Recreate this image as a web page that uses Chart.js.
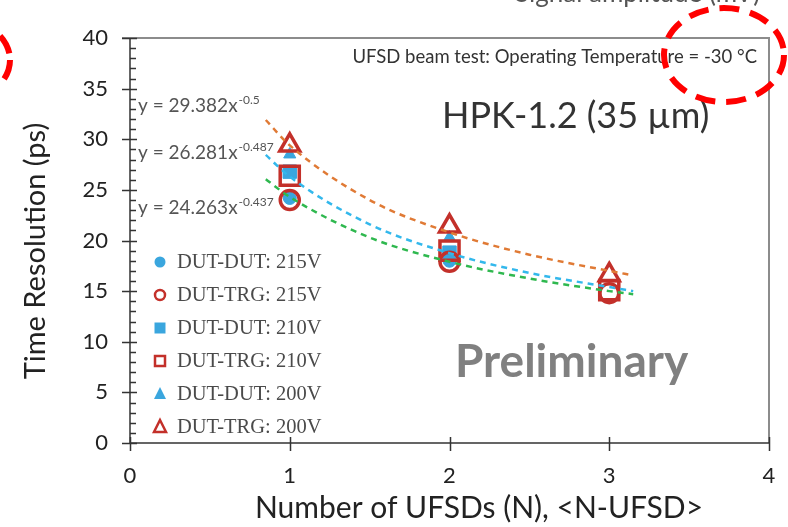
<!DOCTYPE html>
<html lang="en">
<head>
<meta charset="UTF-8">
<title>HPK-1.2 time resolution</title>
<script src="https://cdn.jsdelivr.net/npm/chart.js@4/dist/chart.umd.min.js"></script>
<style>
  html, body { margin: 0; padding: 0; background: #fff; }
  #wrap { width: 788px; height: 527px; }
</style>
</head>
<body>
<div id="wrap"><canvas id="chart" width="788" height="527"></canvas></div>
<script>
// ---- data ----
const nUfsd = [1, 2, 3];
const legendLabels = ['DUT-DUT: 215V', 'DUT-TRG: 215V', 'DUT-DUT: 210V',
                      'DUT-TRG: 210V', 'DUT-DUT: 200V', 'DUT-TRG: 200V'];
const dutDut215 = [24.2, 18.0];
const dutTrg215 = [24.0, 17.9, 14.8];
const dutDut210 = [26.8, 18.8];
const dutTrg210 = [26.4, 19.0, 15.1];
const dutDut200 = [28.5, 20.3];
const dutTrg200 = [29.4, 21.4, 16.6];

// dashed power-law fits
const fitN = [0.85, 1, 1.5, 2, 2.5, 3, 3.15];
const fit200 = [31.9, 29.4, 24.0, 20.8, 18.6, 17.0, 16.55];
const fit210 = [28.45, 26.3, 21.6, 18.75, 16.8, 15.4, 15.0];
const fit215 = [26.05, 24.3, 20.3, 17.9, 16.25, 15.0, 14.7];
const fitLabels = ['y = 29.382x|-0.5', 'y = 26.281x|-0.487', 'y = 24.263x|-0.437'];

const xTicks = [0, 1, 2, 3, 4];
const yTicks = [0, 5, 10, 15, 20, 25, 30, 35, 40];

const BLUE = '#3aa6de';
const RED = '#c3302a';

// marker radius per style (Chart.js radius units)
const openRadius = { circle: 9.5, rect: 13.5, triangle: 11.5 };
const filledRadius = { circle: 6.5, rect: 9.5, triangle: 7 };

function pts(xs, ys) {
  return ys.map((y, i) => ({ x: xs[i], y: y }));
}

function markerSet(label, ys, style, filled, order) {
  return {
    label: label,
    data: pts(nUfsd, ys),
    pointStyle: style,
    pointRadius: filled ? filledRadius[style] : openRadius[style],
    pointBackgroundColor: filled ? BLUE : 'rgba(0,0,0,0)',
    pointBorderColor: filled ? BLUE : RED,
    pointBorderWidth: filled ? 1 : 3.5,
    showLine: false,
    order: order
  };
}

function fitSet(ys, color) {
  return {
    type: 'line',
    data: pts(fitN, ys),
    borderColor: color,
    borderWidth: 2.5,
    borderDash: [6, 5],
    pointRadius: 0,
    cubicInterpolationMode: 'monotone',
    fill: false,
    order: 0
  };
}

// ---- axes, annotations and legend drawn on the canvas ----
const decorations = {
  id: 'decorations',
  beforeDraw(chart) {
    const ctx = chart.ctx;
    ctx.save();
    ctx.fillStyle = '#fff';
    ctx.fillRect(0, 0, chart.width, chart.height);
    ctx.restore();
  },
  afterDraw(chart) {
    const ctx = chart.ctx;
    const a = chart.chartArea;
    const xs = chart.scales.x, ys = chart.scales.y;
    ctx.save();

    // frame
    ctx.strokeStyle = '#8c8c8c';
    ctx.lineWidth = 2;
    ctx.beginPath();
    ctx.moveTo(a.left - 8, a.top);
    ctx.lineTo(a.right, a.top);
    ctx.lineTo(a.right, a.bottom);
    ctx.stroke();

    ctx.strokeStyle = '#333';
    ctx.lineWidth = 1.5;
    ctx.beginPath();
    ctx.moveTo(a.left, a.top);
    ctx.lineTo(a.left, a.bottom);
    ctx.lineTo(a.right, a.bottom);
    ctx.stroke();

    // y ticks: major crossing, minor inside
    ctx.beginPath();
    for (let v = 0; v <= 40; v++) {
      const py = Math.round(ys.getPixelForValue(v)) + 0.5;
      if (v % 5 === 0) {
        ctx.moveTo(a.left - 8, py);
        ctx.lineTo(a.left + 7, py);
      } else {
        ctx.moveTo(a.left, py);
        ctx.lineTo(a.left + 6, py);
      }
    }
    xTicks.forEach(v => {
      const px = Math.round(xs.getPixelForValue(v)) + 0.5;
      ctx.moveTo(px, a.bottom - 6);
      ctx.lineTo(px, a.bottom + 8);
    });
    ctx.stroke();

    // axis titles
    ctx.fillStyle = '#222';
    ctx.textAlign = 'center';
    ctx.textBaseline = 'middle';
    ctx.font = '30px Lato';
    ctx.fillText('Number of UFSDs (N), <N-UFSD>', 479, 508);
    ctx.save();
    ctx.translate(36, 251);
    ctx.rotate(-Math.PI / 2);
    ctx.font = '29px Lato';
    ctx.fillText('Time Resolution (ps)', 0, 0);
    ctx.restore();

    // fit equations
    const eqPix = [106, 153, 208];
    fitLabels.forEach((t, i) => {
      const parts = t.split('|');
      ctx.fillStyle = '#555';
      ctx.textBaseline = 'middle';
      ctx.textAlign = 'left';
      ctx.font = '19px Lato';
      ctx.fillText(parts[0], 138, eqPix[i]);
      const w = ctx.measureText(parts[0]).width;
      ctx.font = '12px Lato';
      ctx.fillText(parts[1], 138 + w + 1, eqPix[i] - 6);
    });

    // annotations
    ctx.fillStyle = '#333';
    ctx.textAlign = 'right';
    ctx.textBaseline = 'middle';
    ctx.font = '18.5px Lato';
    ctx.fillText('UFSD beam test: Operating Temperature = -30 \u00B0C', 757, 57);

    ctx.textAlign = 'left';
    ctx.font = '36px Lato';
    ctx.fillText('HPK-1.2 (35 \u00B5m)', 442, 116);

    ctx.fillStyle = '#808080';
    ctx.font = 'bold 46px Lato';
    ctx.fillText('Preliminary', 455, 362);

    // cut-off heading at the top edge
    ctx.fillStyle = '#555';
    ctx.textBaseline = 'alphabetic';
    ctx.font = '26px Lato';
    ctx.fillText('Signal amplitude (mV)', 515, 2);

    // legend
    const styles = ['circle', 'circle', 'rect', 'rect', 'triangle', 'triangle'];
    const rowY = [262, 295, 328, 361, 394, 427];
    legendLabels.forEach((lab, i) => {
      const filled = i % 2 === 0;
      const cx = 160, cy = rowY[i];
      ctx.lineWidth = 2.5;
      ctx.strokeStyle = filled ? BLUE : RED;
      ctx.fillStyle = BLUE;
      ctx.beginPath();
      if (styles[i] === 'circle') {
        ctx.arc(cx, cy, filled ? 5.5 : 5, 0, Math.PI * 2);
      } else if (styles[i] === 'rect') {
        const s = filled ? 5.5 : 5;
        ctx.rect(cx - s, cy - s, 2 * s, 2 * s);
      } else {
        ctx.moveTo(cx, cy - 7);
        ctx.lineTo(cx + 6, cy + 5);
        ctx.lineTo(cx - 6, cy + 5);
        ctx.closePath();
      }
      if (filled) ctx.fill(); else ctx.stroke();
      ctx.fillStyle = '#4a4a4a';
      ctx.textAlign = 'left';
      ctx.textBaseline = 'middle';
      ctx.font = '20.5px "Liberation Serif"';
      ctx.fillText(lab, 177, cy + 1);
    });

    // red dashed highlight rings
    ctx.strokeStyle = '#ff0000';
    ctx.lineWidth = 6;
    ctx.setLineDash([20, 11]);
    ctx.beginPath();
    ctx.ellipse(724, 55, 60, 47, 0, 0, Math.PI * 2);
    ctx.stroke();
    ctx.beginPath();
    ctx.ellipse(-45, 60, 55, 42, 0, 0, Math.PI * 2);
    ctx.stroke();
    ctx.restore();
  }
};

new Chart(document.getElementById('chart'), {
  type: 'scatter',
  data: {
    datasets: [
      fitSet(fit200, '#e07a35'),
      fitSet(fit210, '#33b8ec'),
      fitSet(fit215, '#2fb84f'),
      markerSet(legendLabels[1], dutTrg215, 'circle', false, 1),
      markerSet(legendLabels[3], dutTrg210, 'rect', false, 1),
      markerSet(legendLabels[5], dutTrg200, 'triangle', false, 1),
      markerSet(legendLabels[0], dutDut215, 'circle', true, 2),
      markerSet(legendLabels[2], dutDut210, 'rect', true, 2),
      markerSet(legendLabels[4], dutDut200, 'triangle', true, 2)
    ]
  },
  options: {
    responsive: false,
    animation: false,
    layout: { padding: { top: 38, right: 19, left: 0, bottom: 0 } },
    plugins: { legend: { display: false }, tooltip: { enabled: false } },
    scales: {
      x: {
        type: 'linear', min: 0, max: 4,
        afterFit(s) { s.height = 84; s.paddingLeft = 0; s.paddingRight = 0; },
        afterBuildTicks(s) { s.ticks = xTicks.map(v => ({ value: v })); },
        grid: { display: false, drawTicks: false },
        border: { display: false },
        ticks: { color: '#222', padding: 20, font: { family: 'Lato', size: 22 } },
        title: { display: false }
      },
      y: {
        min: 0, max: 40,
        afterFit(s) { s.width = 130; s.paddingTop = 0; s.paddingBottom = 0; },
        afterBuildTicks(s) { s.ticks = yTicks.map(v => ({ value: v })); },
        grid: { display: false, drawTicks: false },
        border: { display: false },
        ticks: { color: '#222', padding: 22, font: { family: 'Lato', size: 22 } },
        title: { display: false }
      }
    }
  },
  plugins: [decorations]
});
</script>
</body>
</html>
